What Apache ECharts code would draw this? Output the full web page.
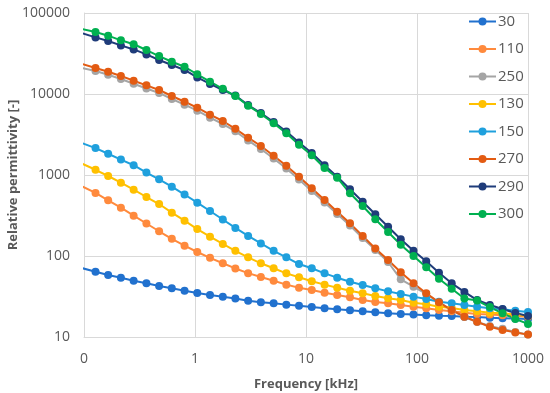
<!DOCTYPE html>
<html><head><meta charset="utf-8">
<script src="https://cdn.jsdelivr.net/npm/echarts@6/dist/echarts.min.js"></script>
<style>html,body{margin:0;padding:0;background:#fff}#c{width:550px;height:393px}</style>
</head><body><div id="c"></div>
<script>
var freq = [0.0975,0.127,0.165,0.215,0.280,0.365,0.475,0.618,0.805,1.048,1.365,1.78,2.31,3.01,3.92,5.11,6.65,8.65,11.27,14.7,19.1,24.9,32.4,42.1,54.9,71.4,93.0,121.1,157.7,205.4,267.3,348.1,453.3,590.1,768.3,1000];
var names = ['30','110','250','130','150','270','290','300'];
var colors = ['#2171CE','#FF8A3D','#A5A5A5','#FFC000','#1FA0DD','#E35B12','#1F3C7A','#00B050'];
var s30  = [70.5,64,58.2,53.9,49.5,46,42.7,39.9,37.3,34.9,33,31.5,29.9,28.1,26.8,26.1,25.1,24.3,23.4,22.6,22,21.4,20.8,20.2,19.6,19.2,18.9,18.5,18.3,18.2,17.8,17.6,17.3,17.1,16.9,16.7];
var s110 = [718,600,487,395,315,252,202,163,134,112,95,81.3,70.2,61.4,55.1,49.5,44.3,40.6,38,35.2,33,30.9,28.6,27,26.1,24.8,23.7,22.6,21.5,20.8,19.9,19.2,18.9,18.5,18.2,17.8];
var s250 = [20800,19200,17300,15300,13400,11700,10300,8670,7380,6220,5100,4260,3470,2670,2090,1600,1200,880,634,457,330,238,167,119,84.4,51.5,41.8,34,26.7,21.5,17.6,15.3,13.7,12.6,11.5,10.7];
var s130 = [1370,1160,972,804,659,535,438,343,273,215,173,141,116,96.3,81.3,70.5,61.1,54.6,48.7,44.3,40.6,37.3,34.7,32.1,30.1,28.6,26.5,25.3,23.7,22.8,21.5,20.8,19.9,19.6,18.9,18.2];
var s150 = [2450,2150,1830,1550,1320,1070,885,717,574,455,359,282,222,177,143,116,96.3,79.6,70.5,61.1,54,48.2,43.9,39.9,36.6,34,31.5,29.4,27.3,26.1,24.8,23.7,22.6,22,21.1,20.4];
var s270 = [23300,20900,18800,16700,14600,12800,11200,9440,8030,6770,5550,4640,3720,2890,2280,1730,1300,953,686,491,352,253,177,124,89.4,63,46,34.7,26.8,21.5,17.8,15.4,13.4,12.2,11.4,10.7];
var s290 = [56000,50000,45100,39800,35500,30800,26300,22800,19800,16000,13300,11200,9550,7310,5820,4510,3440,2520,1870,1320,953,666,468,327,230,161,116,86,62,46,36,28.6,24.8,22.2,19.8,18.2];
var s300 = [63000,58200,52500,46000,41100,34900,29400,25000,21700,17500,14200,11600,9440,7180,5670,4350,3270,2370,1750,1220,926,594,414,284,198,138,100,72.5,52.5,39.5,29.9,28.2,23.4,19.6,16.7,14.5];
var allSeries = [s30,s110,s250,s130,s150,s270,s290,s300];
var xTickLabels = {'0.1':'0','1':'1','10':'10','100':'100','1000':'1000'};
var yTickLabels = {'10':'10','100':'100','1000':'1000','10000':'10000','100000':'100000'};

var FONT = '"Open Sans", sans-serif';
var TXT = '#595959';
var chart = echarts.init(document.getElementById('c'), null, {renderer:'canvas'});
var series = allSeries.map(function(vals, i){
  return {
    name: names[i], type: 'line', clip: true,
    data: vals.map(function(v, j){ return [freq[j], v]; }),
    symbol: 'circle', symbolSize: 8,
    lineStyle: {width: 2, color: colors[i]},
    itemStyle: {color: colors[i]},
    animation: false
  };
});
function fmt(map){ return function(v){ var k = String(+v.toPrecision(6)); return map[k] !== undefined ? map[k] : ''; }; }
chart.setOption({
  animation: false,
  color: colors,
  grid: {left: 84, right: 22, top: 13, bottom: 56, containLabel: false, outerBoundsMode: 'none'},
  legend: {
    orient: 'vertical', left: 463, top: 7, itemWidth: 27, itemHeight: 10, itemGap: 8.5,
    data: names,
    itemStyle: {borderWidth: 0},
    textStyle: {color: TXT, fontSize: 15, fontFamily: FONT, padding: [0,0,0,-3], lineHeight: 19}
  },
  xAxis: {
    type: 'log', logBase: 10, min: 0.1, max: 1000,
    name: 'Frequency [kHz]', nameLocation: 'middle', nameGap: 41,
    nameTextStyle: {color: TXT, fontSize: 13, fontWeight: 'bold', fontFamily: FONT},
    axisLine: {show: true, lineStyle: {color: '#D9D9D9', width: 1}},
    axisTick: {show: false},
    axisLabel: {color: TXT, fontSize: 14, fontFamily: FONT, margin: 15, formatter: fmt(xTickLabels), showMinLabel: true, showMaxLabel: true},
    splitLine: {show: true, lineStyle: {color: '#D9D9D9', width: 1}},
    minorTick: {show: false}
  },
  yAxis: {
    type: 'log', logBase: 10, min: 10, max: 100000,
    name: 'Relative permittivity [-]', nameLocation: 'middle', nameGap: 64, nameRotate: 90, nameMoveOverlap: false,
    nameTextStyle: {color: TXT, fontSize: 13, fontWeight: 'bold', fontFamily: FONT},
    axisLine: {show: true, lineStyle: {color: '#D9D9D9', width: 1}},
    axisTick: {show: false},
    axisLabel: {color: TXT, fontSize: 14, fontFamily: FONT, margin: 14, formatter: fmt(yTickLabels)},
    splitLine: {show: true, lineStyle: {color: '#D9D9D9', width: 1}}
  },
  series: series
});
</script></body></html>
